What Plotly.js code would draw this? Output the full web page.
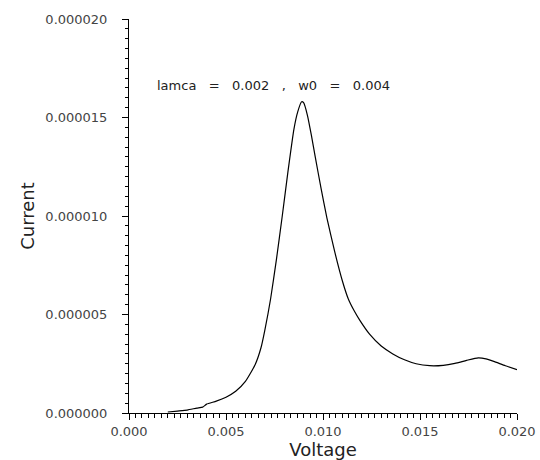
<!DOCTYPE html>
<html>
<head>
<meta charset="utf-8">
<script src="https://cdn.plot.ly/plotly-3.0.1.min.js"></script>
<style>html,body{margin:0;padding:0;background:#fff;}</style>
</head>
<body>
<div id="chart" style="width:540px;height:460px;"></div>
<script>
// Data
const voltage = [0.0020, 0.0025, 0.0030, 0.0035, 0.0038, 0.0040, 0.0045, 0.0050, 0.0055, 0.0060,
                 0.0065, 0.0068, 0.0070, 0.0073, 0.0076, 0.0079, 0.0082, 0.0085, 0.0087, 0.0089,
                 0.0090, 0.0092, 0.0094, 0.0096, 0.0099, 0.0102, 0.0106, 0.0110, 0.0113, 0.0116,
                 0.0119, 0.0124, 0.0130, 0.0136, 0.0142, 0.0148, 0.0155, 0.0162, 0.0168, 0.0174,
                 0.0180, 0.0184, 0.0188, 0.0194, 0.0200];
const current = [0.05e-6, 0.10e-6, 0.15e-6, 0.25e-6, 0.30e-6, 0.45e-6, 0.60e-6, 0.80e-6, 1.10e-6, 1.60e-6,
                 2.45e-6, 3.30e-6, 4.20e-6, 5.80e-6, 7.80e-6, 10.0e-6, 12.3e-6, 14.4e-6, 15.3e-6, 15.8e-6,
                 15.75e-6, 15.1e-6, 14.1e-6, 13.0e-6, 11.4e-6, 9.90e-6, 8.20e-6, 6.70e-6, 5.80e-6, 5.20e-6,
                 4.70e-6, 4.00e-6, 3.40e-6, 3.00e-6, 2.70e-6, 2.50e-6, 2.40e-6, 2.42e-6, 2.52e-6, 2.67e-6,
                 2.80e-6, 2.75e-6, 2.62e-6, 2.40e-6, 2.20e-6];
const xTickVals = [0.000, 0.005, 0.010, 0.015, 0.020];
const yTickVals = [0, 0.000005, 0.000010, 0.000015, 0.000020];
const sp = "\u00a0\u00a0 ";
const annotationText = "lamca" + sp + "=" + sp + "0.002" + sp + "," + sp + "w0" + sp + "=" + sp + "0.004";

const trace = {
  x: voltage, y: current, type: 'scatter', mode: 'lines',
  line: {color: '#000', width: 1.2, shape: 'spline', smoothing: 0.5},
  hoverinfo: 'skip'
};

const tickFont = {family: 'DejaVu Sans', size: 13, color: '#444'};
const layout = {
  width: 540, height: 460,
  margin: {l: 129, r: 23, t: 19, b: 47, pad: 0},
  paper_bgcolor: '#fff', plot_bgcolor: '#fff',
  showlegend: false,
  xaxis: {
    range: [0, 0.02], tickmode: 'array', tickvals: xTickVals, tickformat: '.3f',
    showline: true, linecolor: '#000', linewidth: 1, mirror: false,
    ticks: 'outside', ticklen: 6, tickwidth: 1, tickcolor: '#000',
    minor: {dtick: 0.005/15, ticks: 'outside', ticklen: 4, tickcolor: '#000', tickwidth: 1, showgrid: false},
    showgrid: false, zeroline: false, tickfont: tickFont,
    title: {text: 'Voltage', font: {family: 'DejaVu Sans', size: 18, color: '#222'}, standoff: 2}
  },
  yaxis: {
    range: [0, 0.00002], tickmode: 'array', tickvals: yTickVals, tickformat: '.6f',
    showline: true, linecolor: '#000', linewidth: 1, mirror: false,
    ticks: 'outside', ticklen: 6, tickwidth: 1, tickcolor: '#000',
    ticklabelstandoff: 12,
    minor: {dtick: 0.0000005, ticks: 'outside', ticklen: 3, tickcolor: '#000', tickwidth: 1, showgrid: false},
    showgrid: false, zeroline: false, tickfont: tickFont,
    title: {text: 'Current', font: {family: 'DejaVu Sans', size: 18, color: '#222'}, standoff: 6}
  },
  annotations: [{
    x: 0.00134, y: 0.0000166, xref: 'x', yref: 'y', xanchor: 'left', yanchor: 'middle',
    text: annotationText, showarrow: false,
    font: {family: 'DejaVu Sans', size: 13, color: '#222'}
  }]
};

Plotly.newPlot('chart', [trace], layout, {staticPlot: true, displayModeBar: false});
</script>
</body>
</html>
